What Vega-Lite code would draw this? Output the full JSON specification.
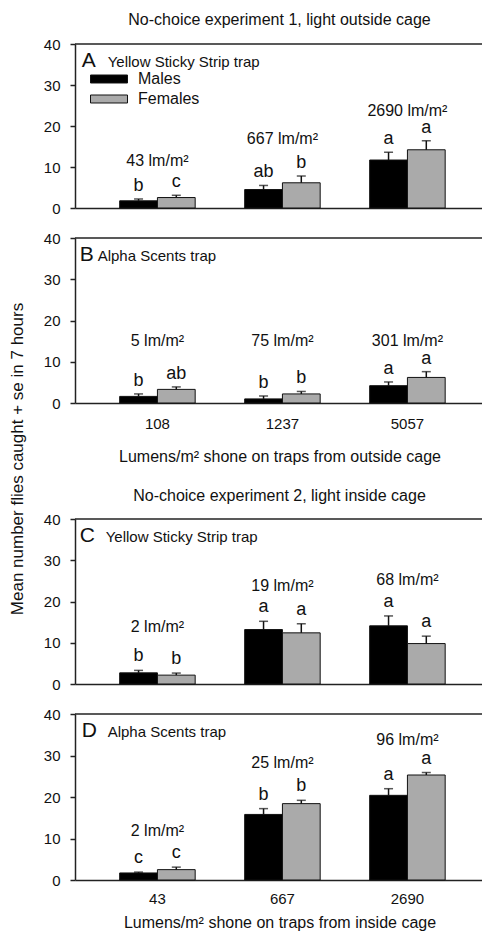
{
  "$schema": "https://vega.github.io/schema/vega-lite/v6.json",
  "padding": {"left": 9, "top": 12, "right": 0, "bottom": 5},
  "background": "white",
  "config": {
    "font": "Liberation Sans",
    "view": {"stroke": null},
    "axis": {"labelFont": "Liberation Sans", "labelFontSize": 15, "labelColor": "#111", "domainColor": "#222", "domainWidth": 1.5, "tickColor": "#222", "tickWidth": 1.5, "grid": false, "titleFont": "Liberation Sans", "titleFontWeight": "normal", "titleFontSize": 16, "titleColor": "#111"},
    "title": {"font": "Liberation Sans", "fontWeight": "normal", "color": "#111"},
    "text": {"font": "Liberation Sans", "color": "#111"}
  },
  "title": {"text": "Mean number flies caught + se in 7 hours", "orient": "left", "anchor": "middle", "fontSize": 17, "offset": 16, "dx": 12},
  "datasets": {
    "bars": [
      {"panel": "A", "lumens": 108, "sex": "Males", "mean": 1.75, "upper": 2.2, "letter": "b"},
      {"panel": "A", "lumens": 108, "sex": "Females", "mean": 2.55, "upper": 3.1, "letter": "c"},
      {"panel": "A", "lumens": 1237, "sex": "Males", "mean": 4.5, "upper": 5.5, "letter": "ab"},
      {"panel": "A", "lumens": 1237, "sex": "Females", "mean": 6.15, "upper": 7.8, "letter": "b"},
      {"panel": "A", "lumens": 5057, "sex": "Males", "mean": 11.7, "upper": 13.6, "letter": "a"},
      {"panel": "A", "lumens": 5057, "sex": "Females", "mean": 14.2, "upper": 16.4, "letter": "a"},
      {"panel": "B", "lumens": 108, "sex": "Males", "mean": 1.6, "upper": 2.2, "letter": "b"},
      {"panel": "B", "lumens": 108, "sex": "Females", "mean": 3.3, "upper": 3.9, "letter": "ab"},
      {"panel": "B", "lumens": 1237, "sex": "Males", "mean": 1.0, "upper": 1.7, "letter": "b"},
      {"panel": "B", "lumens": 1237, "sex": "Females", "mean": 2.2, "upper": 2.8, "letter": "b"},
      {"panel": "B", "lumens": 5057, "sex": "Males", "mean": 4.2, "upper": 5.1, "letter": "a"},
      {"panel": "B", "lumens": 5057, "sex": "Females", "mean": 6.2, "upper": 7.6, "letter": "a"},
      {"panel": "C", "lumens": 43, "sex": "Males", "mean": 2.7, "upper": 3.3, "letter": "b"},
      {"panel": "C", "lumens": 43, "sex": "Females", "mean": 2.15, "upper": 2.65, "letter": "b"},
      {"panel": "C", "lumens": 667, "sex": "Males", "mean": 13.2, "upper": 15.2, "letter": "a"},
      {"panel": "C", "lumens": 667, "sex": "Females", "mean": 12.4, "upper": 14.6, "letter": "a"},
      {"panel": "C", "lumens": 2690, "sex": "Males", "mean": 14.1, "upper": 16.5, "letter": "a"},
      {"panel": "C", "lumens": 2690, "sex": "Females", "mean": 9.8, "upper": 11.6, "letter": "a"},
      {"panel": "D", "lumens": 43, "sex": "Males", "mean": 1.7, "upper": 1.9, "letter": "c"},
      {"panel": "D", "lumens": 43, "sex": "Females", "mean": 2.5, "upper": 3.1, "letter": "c"},
      {"panel": "D", "lumens": 667, "sex": "Males", "mean": 15.8, "upper": 17.2, "letter": "b"},
      {"panel": "D", "lumens": 667, "sex": "Females", "mean": 18.4, "upper": 19.2, "letter": "b"},
      {"panel": "D", "lumens": 2690, "sex": "Males", "mean": 20.4, "upper": 22.0, "letter": "a"},
      {"panel": "D", "lumens": 2690, "sex": "Females", "mean": 25.3, "upper": 25.9, "letter": "a"}
    ],
    "lux": [
      {"panel": "A", "lumens": 108, "text": "43 lm/m²", "at": 10.2},
      {"panel": "A", "lumens": 1237, "text": "667 lm/m²", "at": 15.6},
      {"panel": "A", "lumens": 5057, "text": "2690 lm/m²", "at": 22.5},
      {"panel": "B", "lumens": 108, "text": "5 lm/m²", "at": 13.7},
      {"panel": "B", "lumens": 1237, "text": "75 lm/m²", "at": 13.7},
      {"panel": "B", "lumens": 5057, "text": "301 lm/m²", "at": 13.7},
      {"panel": "C", "lumens": 43, "text": "2 lm/m²", "at": 12.5},
      {"panel": "C", "lumens": 667, "text": "19 lm/m²", "at": 22.5},
      {"panel": "C", "lumens": 2690, "text": "68 lm/m²", "at": 24.0},
      {"panel": "D", "lumens": 43, "text": "2 lm/m²", "at": 10.6},
      {"panel": "D", "lumens": 667, "text": "25 lm/m²", "at": 27.0},
      {"panel": "D", "lumens": 2690, "text": "96 lm/m²", "at": 32.5}
    ],
    "panels": [
      {"panel": "A", "letter": "A", "trap": "Yellow Sticky Strip trap", "first": 108},
      {"panel": "B", "letter": "B", "trap": "Alpha Scents trap", "first": 108},
      {"panel": "C", "letter": "C", "trap": "Yellow Sticky Strip trap", "first": 43},
      {"panel": "D", "letter": "D", "trap": "Alpha Scents trap", "first": 43}
    ]
  },
  "spacing": 24,
  "resolve": {"scale": {"x": "independent", "y": "independent", "xOffset": "independent", "color": "independent"}, "legend": {"color": "independent"}},
  "vconcat": [
    {
      "spacing": 15,
      "resolve": {"scale": {"x": "independent", "y": "independent", "xOffset": "independent", "color": "independent"}, "legend": {"color": "independent"}},
      "vconcat": [
        {
          "width": 409, "height": 164,
          "title": {"text": "No-choice experiment 1, light outside cage", "fontSize": 16, "offset": 9},
          "layer": [
            {
              "data": {"name": "bars"},
              "transform": [{"filter": "datum.panel === 'A'"}],
              "mark": {"type": "bar", "stroke": "#111", "strokeWidth": 1},
              "encoding": {
                "x": {"field": "lumens", "type": "ordinal", "scale": {"paddingInner": 0.396, "paddingOuter": 0.334, "align": 0.535}, "axis": {"labels": false, "ticks": false, "title": null}},
                "xOffset": {"field": "sex", "type": "nominal", "sort": ["Males", "Females"], "scale": {"paddingInner": 0, "paddingOuter": 0}},
                "y": {"field": "mean", "type": "quantitative", "scale": {"domain": [0, 40]}, "axis": {"values": [0, 10, 20, 30, 40], "title": null, "tickSize": 5, "labelPadding": 10}},
                "color": {"field": "sex", "type": "nominal", "sort": ["Males", "Females"], "scale": {"domain": ["Males", "Females"], "range": ["#000000", "#aaaaaa"]},
                  "legend": {"orient": "none", "legendX": 15, "legendY": 25, "title": null, "symbolType": "M-1,-0.216H1V0.216H-1Z", "symbolSize": 1369, "symbolStrokeColor": "#111", "symbolStrokeWidth": 1, "labelFontSize": 16, "labelColor": "#111", "labelOffset": 10, "clipHeight": 20, "rowPadding": 0, "padding": 0, "symbolOpacity": 1}}
              }
            },
            {
              "data": {"name": "bars"},
              "transform": [{"filter": "datum.panel === 'A'"}],
              "mark": {"type": "rule", "color": "#111", "strokeWidth": 1.5},
              "encoding": {
                "x": {"field": "lumens", "type": "ordinal"},
                "xOffset": {"field": "sex", "type": "nominal", "sort": ["Males", "Females"]},
                "y": {"field": "mean", "type": "quantitative"},
                "y2": {"field": "upper"}
              }
            },
            {
              "data": {"name": "bars"},
              "transform": [{"filter": "datum.panel === 'A'"}],
              "mark": {"type": "tick", "color": "#111", "thickness": 1.5, "size": 9, "orient": "horizontal"},
              "encoding": {
                "x": {"field": "lumens", "type": "ordinal"},
                "xOffset": {"field": "sex", "type": "nominal", "sort": ["Males", "Females"]},
                "y": {"field": "upper", "type": "quantitative"}
              }
            },
            {
              "data": {"name": "bars"},
              "transform": [{"filter": "datum.panel === 'A'"}],
              "mark": {"type": "text", "fontSize": 18, "baseline": "alphabetic", "dy": -8},
              "encoding": {
                "x": {"field": "lumens", "type": "ordinal"},
                "xOffset": {"field": "sex", "type": "nominal", "sort": ["Males", "Females"]},
                "y": {"field": "upper", "type": "quantitative"},
                "text": {"field": "letter"}
              }
            },
            {
              "data": {"name": "lux"},
              "transform": [{"filter": "datum.panel === 'A'"}],
              "mark": {"type": "text", "fontSize": 16, "baseline": "alphabetic"},
              "encoding": {
                "x": {"field": "lumens", "type": "ordinal"},
                "y": {"field": "at", "type": "quantitative"},
                "text": {"field": "text"}
              }
            },
            {
              "data": {"name": "panels"},
              "transform": [{"filter": "datum.panel === 'A'"}],
              "mark": {"type": "text", "fontSize": 21, "align": "left", "baseline": "alphabetic", "dx": -38},
              "encoding": {
                "x": {"field": "first", "type": "ordinal", "bandPosition": 0},
                "y": {"datum": 34.5},
                "text": {"field": "letter"}
              }
            },
            {
              "data": {"name": "panels"},
              "transform": [{"filter": "datum.panel === 'A'"}],
              "mark": {"type": "text", "fontSize": 15, "align": "left", "baseline": "alphabetic", "dx": -12},
              "encoding": {
                "x": {"field": "first", "type": "ordinal", "bandPosition": 0},
                "y": {"datum": 34.5},
                "text": {"field": "trap"}
              }
            },
            {
              "data": {"name": "panels"},
              "transform": [{"filter": "datum.panel === 'A'"}],
              "mark": {"type": "rule", "color": "#222", "strokeWidth": 1.5},
              "encoding": {"y": {"datum": 40}}
            }
          ]
        },
        {
          "width": 409, "height": 165,
          "layer": [
            {
              "data": {"name": "bars"},
              "transform": [{"filter": "datum.panel === 'B'"}],
              "mark": {"type": "bar", "stroke": "#111", "strokeWidth": 1},
              "encoding": {
                "x": {"field": "lumens", "type": "ordinal", "scale": {"paddingInner": 0.396, "paddingOuter": 0.334, "align": 0.535}, "axis": {"labelAngle": 0, "ticks": false, "labelPadding": 13, "title": "Lumens/m² shone on traps from outside cage", "titlePadding": 17}},
                "xOffset": {"field": "sex", "type": "nominal", "sort": ["Males", "Females"], "scale": {"paddingInner": 0, "paddingOuter": 0}},
                "y": {"field": "mean", "type": "quantitative", "scale": {"domain": [0, 40]}, "axis": {"values": [0, 10, 20, 30, 40], "title": null, "tickSize": 5, "labelPadding": 10}},
                "color": {"field": "sex", "type": "nominal", "scale": {"domain": ["Males", "Females"], "range": ["#000000", "#aaaaaa"]}, "legend": null}
              }
            },
            {
              "data": {"name": "bars"},
              "transform": [{"filter": "datum.panel === 'B'"}],
              "mark": {"type": "rule", "color": "#111", "strokeWidth": 1.5},
              "encoding": {
                "x": {"field": "lumens", "type": "ordinal"},
                "xOffset": {"field": "sex", "type": "nominal", "sort": ["Males", "Females"]},
                "y": {"field": "mean", "type": "quantitative"},
                "y2": {"field": "upper"}
              }
            },
            {
              "data": {"name": "bars"},
              "transform": [{"filter": "datum.panel === 'B'"}],
              "mark": {"type": "tick", "color": "#111", "thickness": 1.5, "size": 9, "orient": "horizontal"},
              "encoding": {
                "x": {"field": "lumens", "type": "ordinal"},
                "xOffset": {"field": "sex", "type": "nominal", "sort": ["Males", "Females"]},
                "y": {"field": "upper", "type": "quantitative"}
              }
            },
            {
              "data": {"name": "bars"},
              "transform": [{"filter": "datum.panel === 'B'"}],
              "mark": {"type": "text", "fontSize": 18, "baseline": "alphabetic", "dy": -8},
              "encoding": {
                "x": {"field": "lumens", "type": "ordinal"},
                "xOffset": {"field": "sex", "type": "nominal", "sort": ["Males", "Females"]},
                "y": {"field": "upper", "type": "quantitative"},
                "text": {"field": "letter"}
              }
            },
            {
              "data": {"name": "lux"},
              "transform": [{"filter": "datum.panel === 'B'"}],
              "mark": {"type": "text", "fontSize": 16, "baseline": "alphabetic"},
              "encoding": {
                "x": {"field": "lumens", "type": "ordinal"},
                "y": {"field": "at", "type": "quantitative"},
                "text": {"field": "text"}
              }
            },
            {
              "data": {"name": "panels"},
              "transform": [{"filter": "datum.panel === 'B'"}],
              "mark": {"type": "text", "fontSize": 21, "align": "left", "baseline": "alphabetic", "dx": -40},
              "encoding": {
                "x": {"field": "first", "type": "ordinal", "bandPosition": 0},
                "y": {"datum": 34.5},
                "text": {"field": "letter"}
              }
            },
            {
              "data": {"name": "panels"},
              "transform": [{"filter": "datum.panel === 'B'"}],
              "mark": {"type": "text", "fontSize": 15, "align": "left", "baseline": "alphabetic", "dx": -22},
              "encoding": {
                "x": {"field": "first", "type": "ordinal", "bandPosition": 0},
                "y": {"datum": 34.5},
                "text": {"field": "trap"}
              }
            },
            {
              "data": {"name": "panels"},
              "transform": [{"filter": "datum.panel === 'B'"}],
              "mark": {"type": "rule", "color": "#222", "strokeWidth": 1.5},
              "encoding": {"y": {"datum": 40}}
            }
          ]
        }
      ]
    },
    {
      "spacing": 15,
      "resolve": {"scale": {"x": "independent", "y": "independent", "xOffset": "independent", "color": "independent"}, "legend": {"color": "independent"}},
      "vconcat": [
        {
          "width": 409, "height": 165,
          "title": {"text": "No-choice experiment 2, light inside cage", "fontSize": 16, "offset": 8},
          "layer": [
            {
              "data": {"name": "bars"},
              "transform": [{"filter": "datum.panel === 'C'"}],
              "mark": {"type": "bar", "stroke": "#111", "strokeWidth": 1},
              "encoding": {
                "x": {"field": "lumens", "type": "ordinal", "scale": {"paddingInner": 0.396, "paddingOuter": 0.334, "align": 0.535}, "axis": {"labels": false, "ticks": false, "title": null}},
                "xOffset": {"field": "sex", "type": "nominal", "sort": ["Males", "Females"], "scale": {"paddingInner": 0, "paddingOuter": 0}},
                "y": {"field": "mean", "type": "quantitative", "scale": {"domain": [0, 40]}, "axis": {"values": [0, 10, 20, 30, 40], "title": null, "tickSize": 5, "labelPadding": 10}},
                "color": {"field": "sex", "type": "nominal", "scale": {"domain": ["Males", "Females"], "range": ["#000000", "#aaaaaa"]}, "legend": null}
              }
            },
            {
              "data": {"name": "bars"},
              "transform": [{"filter": "datum.panel === 'C'"}],
              "mark": {"type": "rule", "color": "#111", "strokeWidth": 1.5},
              "encoding": {
                "x": {"field": "lumens", "type": "ordinal"},
                "xOffset": {"field": "sex", "type": "nominal", "sort": ["Males", "Females"]},
                "y": {"field": "mean", "type": "quantitative"},
                "y2": {"field": "upper"}
              }
            },
            {
              "data": {"name": "bars"},
              "transform": [{"filter": "datum.panel === 'C'"}],
              "mark": {"type": "tick", "color": "#111", "thickness": 1.5, "size": 9, "orient": "horizontal"},
              "encoding": {
                "x": {"field": "lumens", "type": "ordinal"},
                "xOffset": {"field": "sex", "type": "nominal", "sort": ["Males", "Females"]},
                "y": {"field": "upper", "type": "quantitative"}
              }
            },
            {
              "data": {"name": "bars"},
              "transform": [{"filter": "datum.panel === 'C'"}],
              "mark": {"type": "text", "fontSize": 18, "baseline": "alphabetic", "dy": -9},
              "encoding": {
                "x": {"field": "lumens", "type": "ordinal"},
                "xOffset": {"field": "sex", "type": "nominal", "sort": ["Males", "Females"]},
                "y": {"field": "upper", "type": "quantitative"},
                "text": {"field": "letter"}
              }
            },
            {
              "data": {"name": "lux"},
              "transform": [{"filter": "datum.panel === 'C'"}],
              "mark": {"type": "text", "fontSize": 16, "baseline": "alphabetic"},
              "encoding": {
                "x": {"field": "lumens", "type": "ordinal"},
                "y": {"field": "at", "type": "quantitative"},
                "text": {"field": "text"}
              }
            },
            {
              "data": {"name": "panels"},
              "transform": [{"filter": "datum.panel === 'C'"}],
              "mark": {"type": "text", "fontSize": 21, "align": "left", "baseline": "alphabetic", "dx": -40},
              "encoding": {
                "x": {"field": "first", "type": "ordinal", "bandPosition": 0},
                "y": {"datum": 34.5},
                "text": {"field": "letter"}
              }
            },
            {
              "data": {"name": "panels"},
              "transform": [{"filter": "datum.panel === 'C'"}],
              "mark": {"type": "text", "fontSize": 15, "align": "left", "baseline": "alphabetic", "dx": -14},
              "encoding": {
                "x": {"field": "first", "type": "ordinal", "bandPosition": 0},
                "y": {"datum": 34.5},
                "text": {"field": "trap"}
              }
            },
            {
              "data": {"name": "panels"},
              "transform": [{"filter": "datum.panel === 'C'"}],
              "mark": {"type": "rule", "color": "#222", "strokeWidth": 1.5},
              "encoding": {"y": {"datum": 40}}
            }
          ]
        },
        {
          "width": 409, "height": 166,
          "layer": [
            {
              "data": {"name": "bars"},
              "transform": [{"filter": "datum.panel === 'D'"}],
              "mark": {"type": "bar", "stroke": "#111", "strokeWidth": 1},
              "encoding": {
                "x": {"field": "lumens", "type": "ordinal", "scale": {"paddingInner": 0.396, "paddingOuter": 0.334, "align": 0.535}, "axis": {"labelAngle": 0, "ticks": false, "labelPadding": 11, "title": "Lumens/m² shone on traps from inside cage", "titlePadding": 8}},
                "xOffset": {"field": "sex", "type": "nominal", "sort": ["Males", "Females"], "scale": {"paddingInner": 0, "paddingOuter": 0}},
                "y": {"field": "mean", "type": "quantitative", "scale": {"domain": [0, 40]}, "axis": {"values": [0, 10, 20, 30, 40], "title": null, "tickSize": 5, "labelPadding": 10}},
                "color": {"field": "sex", "type": "nominal", "scale": {"domain": ["Males", "Females"], "range": ["#000000", "#aaaaaa"]}, "legend": null}
              }
            },
            {
              "data": {"name": "bars"},
              "transform": [{"filter": "datum.panel === 'D'"}],
              "mark": {"type": "rule", "color": "#111", "strokeWidth": 1.5},
              "encoding": {
                "x": {"field": "lumens", "type": "ordinal"},
                "xOffset": {"field": "sex", "type": "nominal", "sort": ["Males", "Females"]},
                "y": {"field": "mean", "type": "quantitative"},
                "y2": {"field": "upper"}
              }
            },
            {
              "data": {"name": "bars"},
              "transform": [{"filter": "datum.panel === 'D'"}],
              "mark": {"type": "tick", "color": "#111", "thickness": 1.5, "size": 9, "orient": "horizontal"},
              "encoding": {
                "x": {"field": "lumens", "type": "ordinal"},
                "xOffset": {"field": "sex", "type": "nominal", "sort": ["Males", "Females"]},
                "y": {"field": "upper", "type": "quantitative"}
              }
            },
            {
              "data": {"name": "bars"},
              "transform": [{"filter": "datum.panel === 'D'"}],
              "mark": {"type": "text", "fontSize": 18, "baseline": "alphabetic", "dy": -9},
              "encoding": {
                "x": {"field": "lumens", "type": "ordinal"},
                "xOffset": {"field": "sex", "type": "nominal", "sort": ["Males", "Females"]},
                "y": {"field": "upper", "type": "quantitative"},
                "text": {"field": "letter"}
              }
            },
            {
              "data": {"name": "lux"},
              "transform": [{"filter": "datum.panel === 'D'"}],
              "mark": {"type": "text", "fontSize": 16, "baseline": "alphabetic"},
              "encoding": {
                "x": {"field": "lumens", "type": "ordinal"},
                "y": {"field": "at", "type": "quantitative"},
                "text": {"field": "text"}
              }
            },
            {
              "data": {"name": "panels"},
              "transform": [{"filter": "datum.panel === 'D'"}],
              "mark": {"type": "text", "fontSize": 21, "align": "left", "baseline": "alphabetic", "dx": -38},
              "encoding": {
                "x": {"field": "first", "type": "ordinal", "bandPosition": 0},
                "y": {"datum": 34.5},
                "text": {"field": "letter"}
              }
            },
            {
              "data": {"name": "panels"},
              "transform": [{"filter": "datum.panel === 'D'"}],
              "mark": {"type": "text", "fontSize": 15, "align": "left", "baseline": "alphabetic", "dx": -12},
              "encoding": {
                "x": {"field": "first", "type": "ordinal", "bandPosition": 0},
                "y": {"datum": 34.5},
                "text": {"field": "trap"}
              }
            },
            {
              "data": {"name": "panels"},
              "transform": [{"filter": "datum.panel === 'D'"}],
              "mark": {"type": "rule", "color": "#222", "strokeWidth": 1.5},
              "encoding": {"y": {"datum": 40}}
            }
          ]
        }
      ]
    }
  ]
}
